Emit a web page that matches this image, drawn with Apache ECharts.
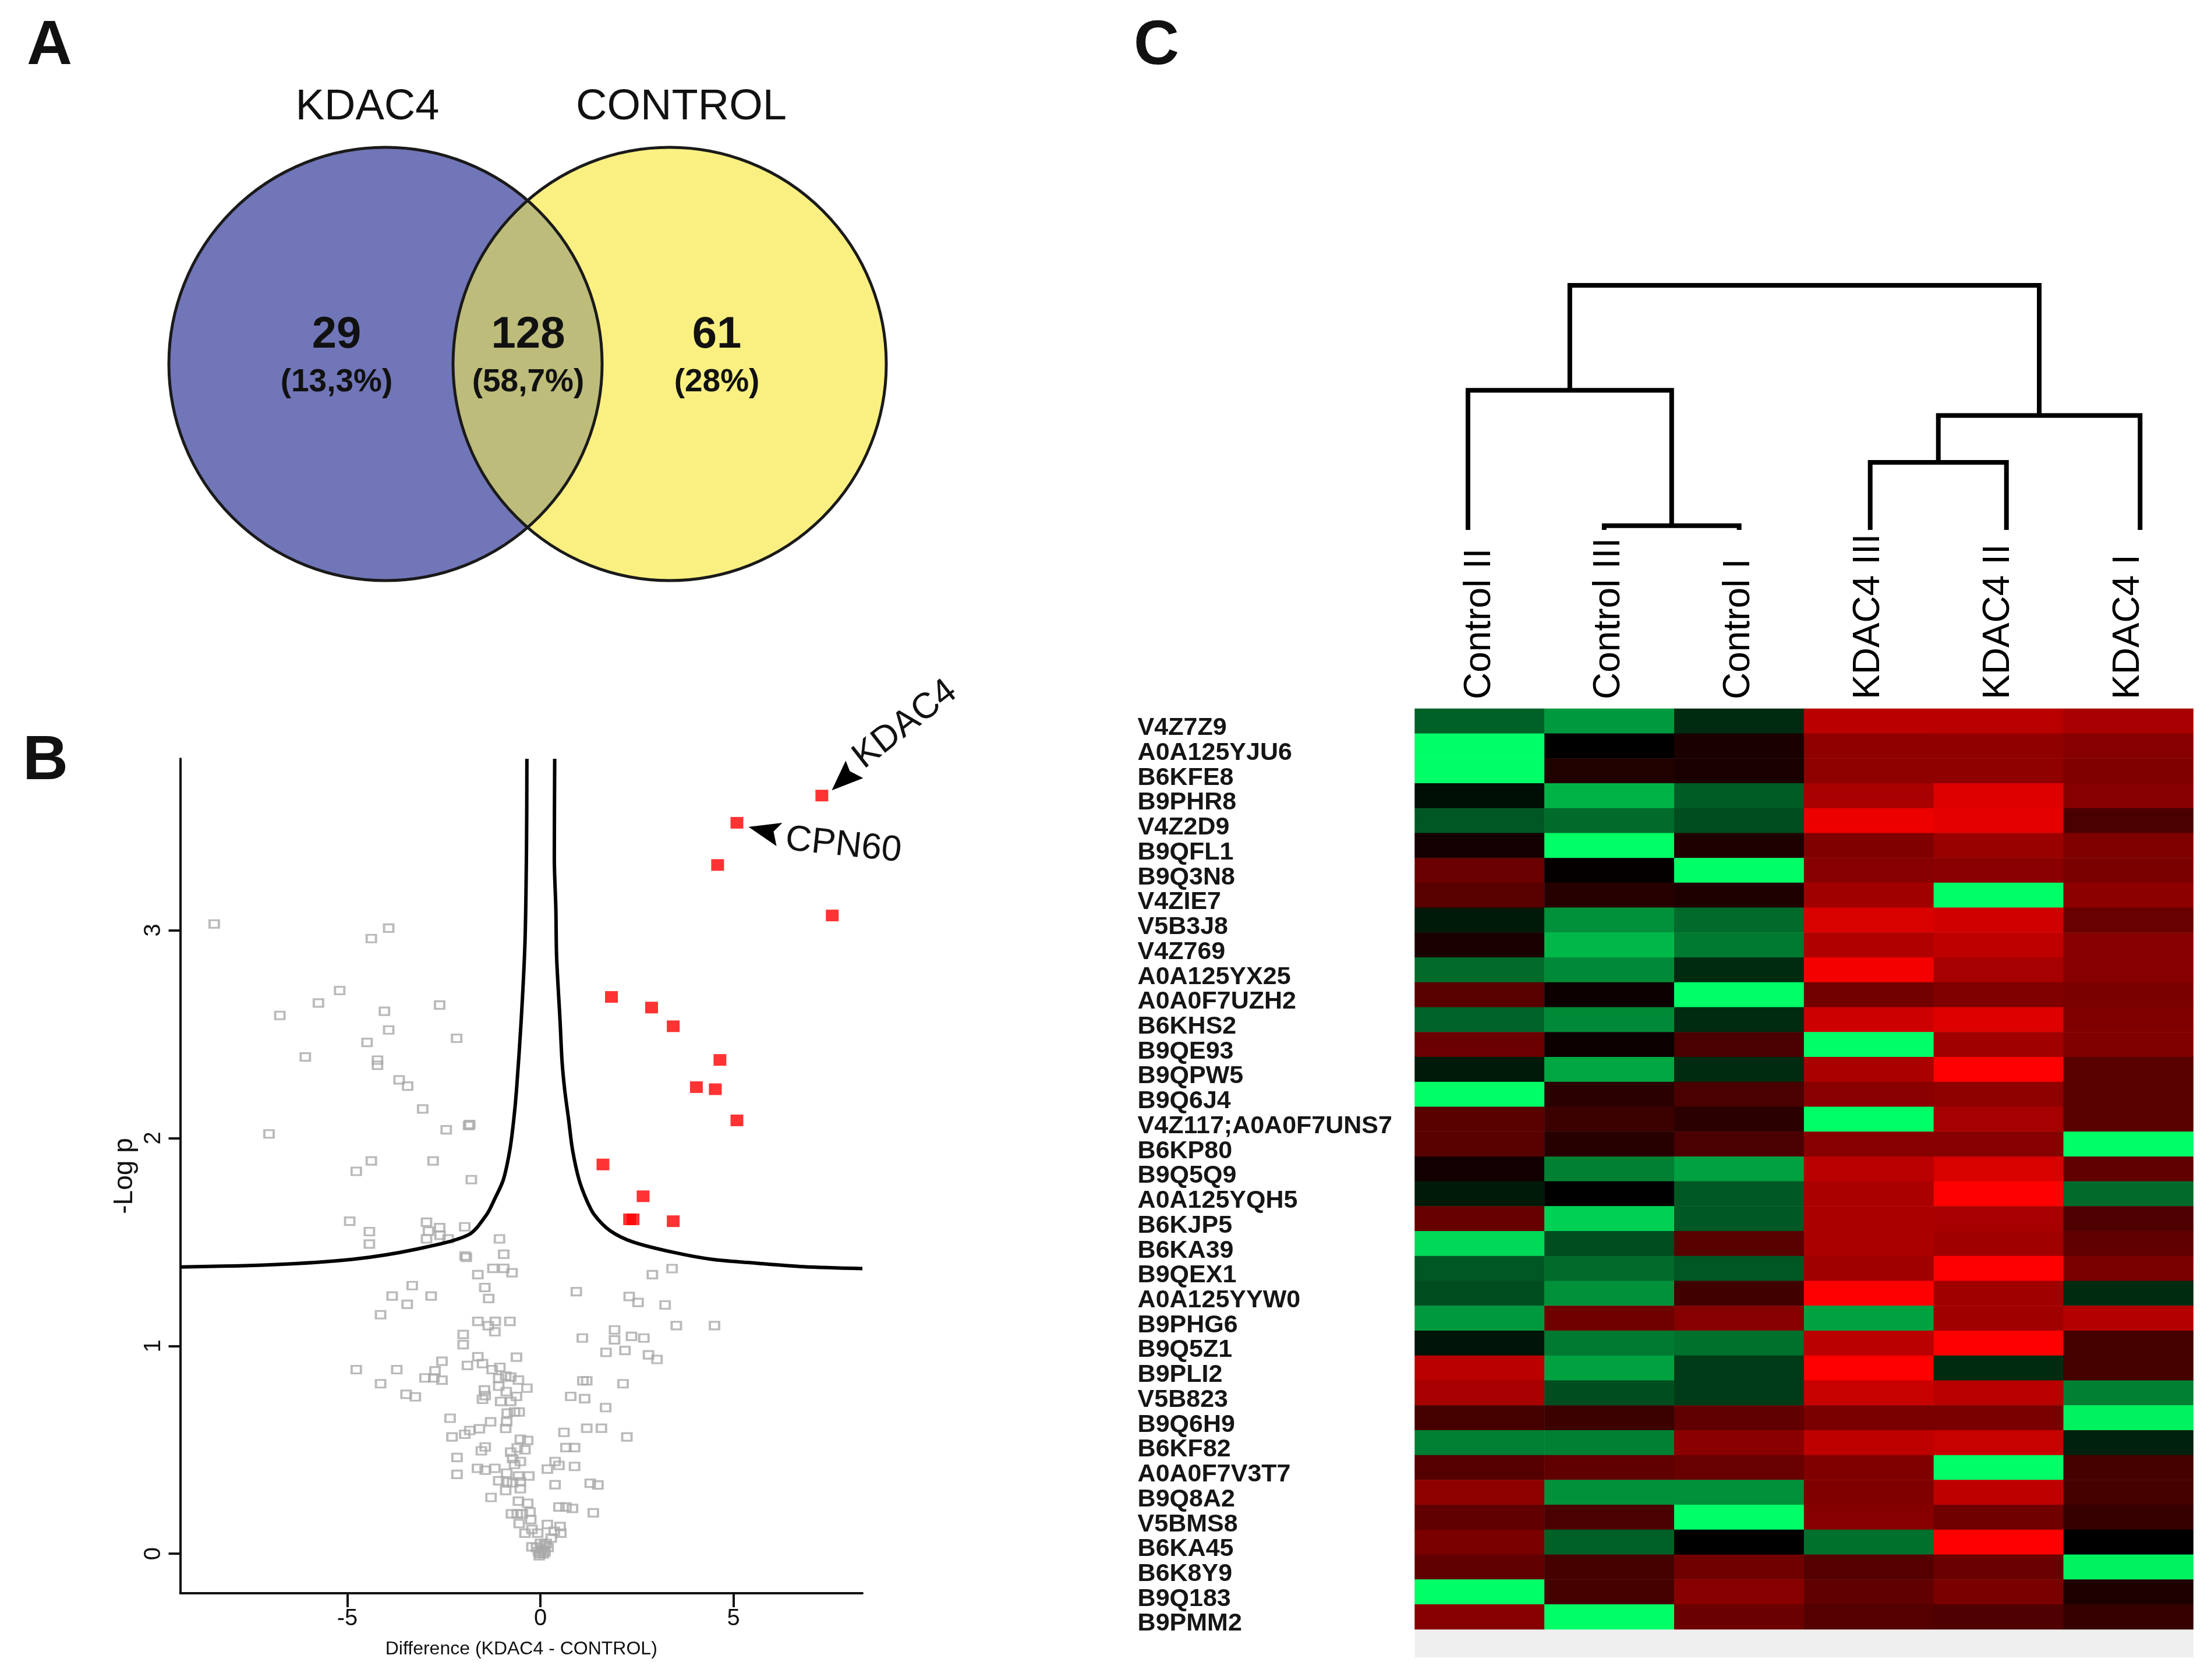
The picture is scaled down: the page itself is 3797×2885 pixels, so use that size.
<!DOCTYPE html>
<html><head><meta charset="utf-8">
<script src="https://cdn.jsdelivr.net/npm/echarts@6/dist/echarts.min.js"></script>
<style>html,body{margin:0;padding:0;background:#fff}#c{width:3797px;height:2885px}</style>
</head><body><div id="c"></div>
<script>
// ---------- DATA ----------
const vennSets = ['KDAC4', 'CONTROL'];
const vennCounts = [29, 128, 61];
const vennPercents = ['13,3%', '58,7%', '28%'];

const volcanoXTicks = [-5, 0, 5];
const volcanoYTicks = [0, 1, 2, 3];
const volcanoXName = 'Difference (KDAC4 - CONTROL)';
const volcanoYName = '-Log p';

const volcanoNonSig = [
 [-8.45,3.03],[-3.93,3.01],[-4.38,2.96],[-5.20,2.71],[-5.75,2.65],[-6.75,2.59],[-2.61,2.64],[-4.04,2.61],
 [-3.93,2.52],[-2.17,2.48],[-4.49,2.46],[-6.09,2.39],[-4.22,2.375],[-4.22,2.35],[-3.66,2.28],[-3.44,2.25],
 [-3.05,2.14],[-2.44,2.04],[-1.86,2.06],[-1.83,2.065],[-7.03,2.02],[-4.38,1.89],[-4.77,1.84],[-2.78,1.89],[-1.79,1.80],
 [-4.94,1.60],[-4.43,1.55],[-4.43,1.49],[-2.95,1.595],[-2.90,1.552],[-2.95,1.515],[-2.61,1.569],[-2.60,1.532],
 [-2.39,1.515],[-1.96,1.573],[-1.06,1.515],
 [-1.92,1.426],[-1.95,1.433],[-0.95,1.441],[-1.23,1.373],[-0.95,1.373],[-0.735,1.352],[-1.62,1.343],[-1.44,1.281],
 [-1.34,1.228],[-1.62,1.118],[-1.35,1.097],[-1.17,1.118],[-1.18,1.068],[-0.79,1.118],[-2.0,1.055],[-2.0,1.006],
 [-3.32,1.29],[-3.84,1.24],[-3.45,1.20],[-2.83,1.24],[-4.14,1.15],
 [-4.77,0.886],[-3.72,0.886],[-4.14,0.818],[-3.48,0.767],[-3.24,0.755],[-2.99,0.846],[-2.73,0.88],[-2.55,0.926],
 [-2.55,0.835],[-2.76,0.846],[-2.34,0.652],[-2.29,0.562],[-2.16,0.463],[-2.16,0.382],
 [-1.62,0.948],[-0.62,0.946],[-1.89,0.906],[-1.50,0.915],[-1.25,0.886],[-1.05,0.897],[-1.08,0.845],[-0.90,0.855],
 [-0.77,0.85],[-0.57,0.836],[-1.08,0.806],[-0.35,0.797],[-1.45,0.788],[-1.43,0.761],[-1.50,0.743],[-0.885,0.78],
 [-0.62,0.757],[-1.03,0.733],[-0.77,0.733],[-0.86,0.677],[-0.67,0.682],[-0.55,0.682],[-0.875,0.635],[-1.29,0.635],
 [-0.90,0.603],[-1.58,0.601],[-1.83,0.593],[-1.96,0.575],[0.61,0.584],[0.785,0.757],[-0.52,0.551],[-0.33,0.545],
 [-1.43,0.514],[-1.53,0.495],[-0.60,0.509],[-0.40,0.50],[-0.77,0.489],[0.66,0.511],
 [-0.72,0.458],[-0.52,0.444],[-0.67,0.43],[-1.63,0.411],[-1.43,0.402],[-1.18,0.411],[-0.875,0.388],[-1.08,0.351],
 [-0.875,0.346],[-0.72,0.341],[-0.57,0.374],[-0.52,0.346],[-0.30,0.374],[-0.90,0.304],[-0.52,0.313],[-1.28,0.271],
 [-0.57,0.253],[-0.33,0.243],[-0.75,0.192],[-0.60,0.192],[-0.47,0.192],[-0.27,0.201],[-0.55,0.145],[-0.25,0.164],
 [-0.40,0.099],[-0.22,0.117],[-0.07,0.099],[0.18,0.141],[0.36,0.108],[0.51,0.131],[0.53,0.099],[0.28,0.075],[-0.22,0.033],
 [-0.10,0.03],[-0.05,0.01],[0.0,0.0],[0.05,0.02],[0.10,0.04],[0.15,0.05],[0.20,0.03],[0.0,0.05],[0.08,0.0],[-0.03,-0.01],[0.12,0.01],
 [0.18,0.407],[0.38,0.444],[0.48,0.425],[0.38,0.332],[0.48,0.225],[0.66,0.225],
 [0.93,1.261],[2.90,1.343],[3.41,1.372],[2.30,1.238],[2.53,1.209],[3.23,1.197],[3.52,1.098],[4.51,1.098],
 [1.086,1.038],[1.92,1.077],[1.92,1.029],[2.36,1.046],[2.68,1.038],[1.70,0.969],[2.19,0.978],[2.80,0.957],[3.02,0.935],
 [1.10,0.832],[1.20,0.832],[2.14,0.818],[1.146,0.746],[1.69,0.703],[1.20,0.604],[1.58,0.604],[2.24,0.562],
 [0.884,0.511],[0.884,0.42],[1.29,0.339],[1.49,0.331],[0.83,0.218],[1.37,0.197]
];
const volcanoSig = [
 [7.29,3.648],[5.09,3.517],[4.59,3.314],[7.56,3.071],[1.84,2.679],[2.88,2.628],[3.44,2.538],[4.65,2.376],
 [4.04,2.245],[4.53,2.235],[5.09,2.085],[1.62,1.873],[2.66,1.72],[2.31,1.609],[2.40,1.609],[3.44,1.60]
];
const thresholdLeft = [
 [-0.35,3.825],[-0.36,3.4],[-0.40,2.94],[-0.50,2.56],[-0.62,2.23],[-0.69,2.09],[-0.79,1.945],[-0.96,1.80],
 [-1.19,1.705],[-1.40,1.63],[-1.86,1.535],[-3.2,1.466],[-4.89,1.416],[-7.0,1.39],[-9.33,1.38]
];
const thresholdRight = [
 [0.37,3.825],[0.36,3.35],[0.40,3.10],[0.42,2.87],[0.51,2.56],[0.56,2.37],[0.63,2.23],[0.73,2.09],[0.83,1.945],
 [1.0,1.80],[1.2,1.70],[1.4,1.63],[1.8,1.555],[2.4,1.50],[3.45,1.45],[4.46,1.416],[5.47,1.40],[6.82,1.381],[8.34,1.372]
];
const annotatedNames = ['KDAC4', 'CPN60'];
const annotatedPoints = [[7.29,3.648],[5.09,3.517]];

const samples = ['Control II','Control III','Control I','KDAC4 III','KDAC4 II','KDAC4 I'];
const proteins = ['V4Z7Z9','A0A125YJU6','B6KFE8','B9PHR8','V4Z2D9','B9QFL1','B9Q3N8','V4ZIE7','V5B3J8','V4Z769',
 'A0A125YX25','A0A0F7UZH2','B6KHS2','B9QE93','B9QPW5','B9Q6J4','V4Z117;A0A0F7UNS7','B6KP80','B9Q5Q9','A0A125YQH5',
 'B6KJP5','B6KA39','B9QEX1','A0A125YYW0','B9PHG6','B9Q5Z1','B9PLI2','V5B823','B9Q6H9','B6KF82','A0A0F7V3T7',
 'B9Q8A2','V5BMS8','B6KA45','B6K8Y9','B9Q183','B9PMM2'];
const heatValues = [
 [-0.38,-0.60,-0.17,0.73,0.72,0.66],
 [-1,0.0,0.10,0.57,0.57,0.53],
 [-1,0.13,0.10,0.56,0.56,0.50],
 [-0.06,-0.70,-0.36,0.66,0.87,0.53],
 [-0.34,-0.42,-0.30,0.93,0.90,0.29],
 [0.08,-1,0.12,0.50,0.60,0.50],
 [0.42,0.02,-1,0.53,0.54,0.48],
 [0.35,0.15,0.12,0.63,-1,0.55],
 [-0.10,-0.57,-0.42,0.85,0.82,0.41],
 [0.10,-0.72,-0.48,0.69,0.75,0.53],
 [-0.42,-0.54,-0.17,0.96,0.65,0.53],
 [0.35,0.05,-1,0.45,0.50,0.48],
 [-0.39,-0.54,-0.17,0.80,0.87,0.50],
 [0.42,0.05,0.29,-1,0.63,0.50],
 [-0.10,-0.65,-0.17,0.67,1.0,0.35],
 [-1,0.17,0.29,0.54,0.56,0.35],
 [0.35,0.23,0.17,-1,0.65,0.35],
 [0.35,0.15,0.29,0.53,0.53,-1],
 [0.07,-0.50,-0.63,0.73,0.85,0.38],
 [-0.10,0.0,-0.35,0.67,1.0,-0.42],
 [0.40,-0.82,-0.35,0.67,0.66,0.31],
 [-0.85,-0.30,0.35,0.67,0.63,0.38],
 [-0.34,-0.42,-0.34,0.63,1.0,0.48],
 [-0.30,-0.57,0.25,1.0,0.63,-0.17],
 [-0.60,0.44,0.53,-0.63,0.63,0.71],
 [-0.08,-0.48,-0.44,0.73,1.0,0.27],
 [0.73,-0.63,-0.23,1.0,-0.17,0.27],
 [0.66,-0.30,-0.23,0.78,0.72,-0.50],
 [0.27,0.23,0.38,0.48,0.48,-0.95],
 [-0.50,-0.50,0.54,0.75,0.78,-0.13],
 [0.33,0.38,0.41,0.50,-1,0.27],
 [0.56,-0.57,-0.57,0.50,0.75,0.27],
 [0.38,0.29,-1,0.53,0.44,0.21],
 [0.48,-0.38,0.0,-0.44,1.0,0.0],
 [0.38,0.27,0.44,0.33,0.42,-0.95],
 [-1,0.27,0.53,0.38,0.48,0.12],
 [0.53,-1,0.42,0.33,0.31,0.21]
];
// dendrogram: leaf positions (column units) and merges [a, b, height]; indexes >= 6 are merged nodes
const dendroLeafX = [0.41, 1.46, 2.50, 3.51, 4.56, 5.59];
const dendroMerges = [[1,2,0.017],[0,6,0.571],[3,4,0.276],[8,5,0.468],[7,9,1.0]];

// ---------- BUILD ----------
const FONT = "'Liberation Sans', Arial, sans-serif";
const chart = echarts.init(document.getElementById('c'), null, {renderer: 'canvas'});

const heatData = [];
heatValues.forEach((row, r) => row.forEach((v, c) => heatData.push([c, r, v])));

function dendroSegments() {
  const nx = dendroLeafX.slice(), nh = dendroLeafX.map(() => 0), segs = [];
  dendroMerges.forEach(([a, b, h]) => {
    segs.push([nx[a], nh[a], nx[b], nh[b], h]);
    nx.push((nx[a] + nx[b]) / 2); nh.push(h);
  });
  return segs;
}

// Venn geometry (layout)
const VL = {cx: 662, cy: 625, r: 372}, VR = {cx: 1150, cy: 625, r: 372};
const vd = VR.cx - VL.cx, va = vd / 2, vh = Math.sqrt(VL.r * VL.r - va * va);
const theta = Math.atan2(vh, va);
const lensPts = [];
for (let i = 0; i <= 60; i++) {
  const t = -theta + 2 * theta * i / 60;
  lensPts.push([VL.cx + VL.r * Math.cos(t), VL.cy + VL.r * Math.sin(t)]);
}
for (let i = 0; i <= 60; i++) {
  const t = Math.PI - theta + 2 * theta * i / 60;
  lensPts.push([VR.cx + VR.r * Math.cos(t), VR.cy + VR.r * Math.sin(t)]);
}
const regionX = [578, 907, 1231];

function txt(id, text, x, y, font, extra) {
  return Object.assign({type: 'text', id, x, y, style: {text, x: 0, y: 0, font, fill: '#111', align: 'center', verticalAlign: 'middle'}, z: 50}, extra || {});
}

const baseGraphic = [
  {type: 'circle', id: 'vL', shape: {cx: VL.cx, cy: VL.cy, r: VL.r}, style: {fill: '#7176B8'}, z: 1},
  {type: 'circle', id: 'vR', shape: {cx: VR.cx, cy: VR.cy, r: VR.r}, style: {fill: '#FAF081'}, z: 1},
  {type: 'polygon', id: 'vLens', shape: {points: lensPts}, style: {fill: '#BDBC7B'}, z: 2},
  {type: 'circle', id: 'vLs', shape: {cx: VL.cx, cy: VL.cy, r: VL.r}, style: {fill: null, stroke: '#1a1a1a', lineWidth: 5}, z: 3},
  {type: 'circle', id: 'vRs', shape: {cx: VR.cx, cy: VR.cy, r: VR.r}, style: {fill: null, stroke: '#1a1a1a', lineWidth: 5}, z: 3},
  txt('vt0', vennSets[0], 631, 185, `74px ${FONT}`),
  txt('vt1', vennSets[1], 1170, 185, `74px ${FONT}`),
  txt('pA', 'A', 85, 80, `bold 108px ${FONT}`),
  txt('pB', 'B', 78, 1308, `bold 108px ${FONT}`),
  txt('pC', 'C', 1986, 80, `bold 108px ${FONT}`),
  {type: 'rect', id: 'band', shape: {x: 2429.6, y: 2798, width: 1337, height: 48}, style: {fill: '#EFEFEF'}, z: 0}
];
vennCounts.forEach((c, i) => {
  baseGraphic.push(txt('vc' + i, String(c), regionX[i], 576, `bold 76px ${FONT}`));
  baseGraphic.push(txt('vp' + i, '(' + vennPercents[i] + ')', regionX[i], 657, `bold 55px ${FONT}`));
});

const axisBlack = {lineStyle: {color: '#111', width: 4}};
const option = {
  backgroundColor: '#fff',
  animation: false,
  grid: [
    {left: 309.5, top: 1303, width: 1171.5, height: 1433},
    {left: 2429.6, top: 1217, width: 1337, height: 1581},
    {left: 2429.6, top: 490, width: 1337, height: 420}
  ],
  xAxis: [
    {type: 'value', gridIndex: 0, min: -9.33, max: 8.34, splitLine: {show: false},
     axisLine: Object.assign({onZero: false}, axisBlack),
     axisTick: {customValues: volcanoXTicks, length: 24, lineStyle: {color: '#111', width: 4}},
     axisLabel: {customValues: volcanoXTicks, fontSize: 40, color: '#111', fontFamily: FONT, margin: 24},
     name: volcanoXName, nameLocation: 'middle', nameGap: 80,
     nameTextStyle: {fontSize: 32, color: '#111', fontFamily: FONT}},
    {type: 'category', gridIndex: 1, position: 'top', data: samples,
     axisLine: {show: false}, axisTick: {show: false}, splitLine: {show: false},
     axisLabel: {interval: 0, rotate: -90, margin: 16, fontSize: 64, color: '#000', fontFamily: FONT}},
    {type: 'value', gridIndex: 2, min: 0, max: 6, show: false}
  ],
  yAxis: [
    {type: 'value', gridIndex: 0, min: -0.19, max: 3.825, splitLine: {show: false},
     axisLine: Object.assign({onZero: false}, axisBlack),
     axisTick: {customValues: volcanoYTicks, length: 20, lineStyle: {color: '#111', width: 4}},
     axisLabel: {customValues: volcanoYTicks, rotate: 90, fontSize: 40, color: '#111', fontFamily: FONT, margin: 26},
     name: volcanoYName, nameLocation: 'middle', nameRotate: 90, nameGap: 72,
     nameTextStyle: {fontSize: 46, color: '#111', fontFamily: FONT}},
    {type: 'category', gridIndex: 1, inverse: true, data: proteins,
     axisLine: {show: false}, axisTick: {show: false}, splitLine: {show: false},
     axisLabel: {interval: 0, align: 'left', margin: 476, fontFamily: FONT,
       formatter: v => '{p|' + v + '}',
       rich: {p: {fontSize: 43, fontWeight: 'bold', color: '#151515', fontFamily: FONT, padding: [24, 0, 0, 0]}}}},
    {type: 'value', gridIndex: 2, min: 0, max: 1, show: false}
  ],
  visualMap: {show: false, seriesIndex: 4, min: -1, max: 1, calculable: false,
    inRange: {color: ['#00FF66', '#000000', '#FF0000']}},
  series: [
    {type: 'scatter', xAxisIndex: 0, yAxisIndex: 0, data: volcanoNonSig, symbol: 'rect', symbolSize: [16, 13],
     itemStyle: {color: 'rgba(0,0,0,0)', borderColor: '#A9A9A9', borderWidth: 3.5}, z: 2},
    {type: 'line', xAxisIndex: 0, yAxisIndex: 0, data: thresholdLeft, smooth: 0.3, showSymbol: false,
     lineStyle: {color: '#000', width: 6}, z: 3},
    {type: 'line', xAxisIndex: 0, yAxisIndex: 0, data: thresholdRight, smooth: 0.3, showSymbol: false,
     lineStyle: {color: '#000', width: 6}, z: 3},
    {type: 'scatter', xAxisIndex: 0, yAxisIndex: 0, data: volcanoSig, symbol: 'rect', symbolSize: [22, 20],
     itemStyle: {color: '#FF0000'}, z: 4},
    {type: 'heatmap', xAxisIndex: 1, yAxisIndex: 1, data: heatData, itemStyle: {borderWidth: 0}},
    {type: 'custom', xAxisIndex: 2, yAxisIndex: 2, data: dendroSegments(), clip: false,
     encode: {x: [0, 2], y: [1, 3, 4]},
     renderItem: function (params, api) {
       const xa = api.value(0), ha = api.value(1), xb = api.value(2), hb = api.value(3), h = api.value(4);
       const pts = [api.coord([xa, ha]), api.coord([xa, h]), api.coord([xb, h]), api.coord([xb, hb])];
       return {type: 'polyline', shape: {points: pts}, style: {stroke: '#000', lineWidth: 8, fill: null, lineJoin: 'miter'}};
     }}
  ],
  graphic: baseGraphic
};
chart.setOption(option);

// annotations anchored to data points
const p0 = chart.convertToPixel({gridIndex: 0}, annotatedPoints[0]);
const p1 = chart.convertToPixel({gridIndex: 0}, annotatedPoints[1]);
const rel = (p, arr) => arr.map(([dx, dy]) => [p[0] + dx, p[1] + dy]);
const ann = [
  {type: 'polygon', id: 'ar0', shape: {points: rel(p0, [[17,-9],[41,-60],[48,-42],[71,-30]])}, style: {fill: '#000'}, z: 60},
  {type: 'polygon', id: 'ar1', shape: {points: rel(p1, [[20,7],[78,0],[63,15],[68,40]])}, style: {fill: '#000'}, z: 60},
  txt('an0', annotatedNames[0], p0[0] + 143, p0[1] - 122, `62px ${FONT}`, {rotation: 38 * Math.PI / 180}),
  txt('an1', annotatedNames[1], p1[0] + 183, p1[1] + 39, `62px ${FONT}`, {rotation: -6 * Math.PI / 180})
];
chart.setOption({graphic: baseGraphic.concat(ann)});
</script></body></html>
